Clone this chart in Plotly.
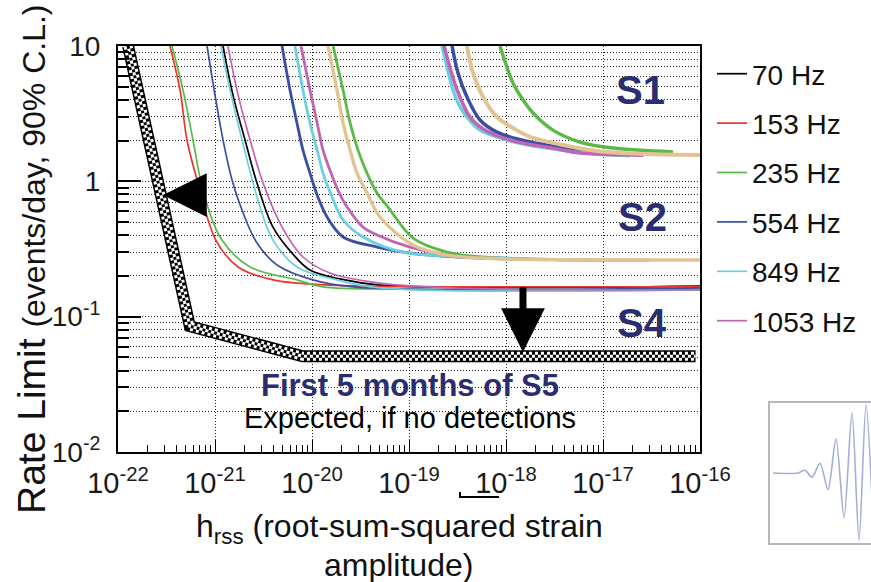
import plotly.graph_objects as go

# ---------------- data ----------------
# S4 upper limits (thin curves), strain h_rss vs rate limit (events/day)
s4_70_h = [1.21e-21, 1.53e-21, 2.04e-21, 2.71e-21, 3.96e-21, 6.22e-21, 9.53e-21, 1.94e-20, 5.02e-20, 1e-16]
s4_70_r = [10, 4.35, 2.02, 0.971, 0.459, 0.295, 0.221, 0.19, 0.171, 0.168]
s4_153_h = [3.43e-22, 4.36e-22, 5.14e-22, 6.68e-22, 1.02e-21, 1.73e-21, 3.96e-21, 1.53e-20, 2.65e-19, 1e-16]
s4_153_r = [10, 4.73, 2.02, 0.971, 0.368, 0.233, 0.187, 0.171, 0.166, 0.166]
s4_235_h = [3.60e-22, 4.68e-22, 5.93e-22, 7.52e-22, 1.18e-21, 2.30e-21, 7.0e-21, 1.30e-20, 8.07e-20, 1e-16]
s4_235_r = [10, 4.73, 2.02, 0.862, 0.368, 0.233, 0.187, 0.166, 0.160, 0.160]
s4_554_h = [8.28e-22, 1.02e-21, 1.21e-21, 1.50e-21, 1.95e-21, 2.71e-21, 4.36e-21, 1.02e-20, 2.65e-20, 1e-16]
s4_554_r = [10, 3.99, 2.02, 1.02, 0.583, 0.350, 0.241, 0.187, 0.166, 0.163]
s4_849_h = [1.15e-21, 1.43e-21, 1.90e-21, 2.91e-21, 3.96e-21, 7.0e-21, 1.81e-20, 5.02e-20, 1e-16]
s4_849_r = [10, 4.73, 2.02, 0.646, 0.368, 0.233, 0.187, 0.163, 0.158]
s4_1053_h = [1.36e-21, 1.73e-21, 2.30e-21, 3.13e-21, 4.91e-21, 8.07e-21, 1.53e-20, 5.02e-20, 2.65e-19, 1e-16]
s4_1053_r = [10, 4.35, 2.02, 0.971, 0.459, 0.276, 0.210, 0.177, 0.163, 0.158]

# S2 upper limits
s2_554_h = [4.91e-21, 5.93e-21, 7.0e-21, 8.07e-21, 9.53e-21, 1.15e-20, 1.43e-20, 2.09e-20, 4.68e-20, 1.02e-19, 5.40e-19, 9.3e-18, 3e-17]
s2_554_r = [10, 4.73, 2.70, 1.70, 1.15, 0.766, 0.545, 0.388, 0.327, 0.295, 0.271, 0.262, 0.262]
s2_849_h = [6.68e-21, 8.07e-21, 9.53e-21, 1.13e-20, 1.30e-20, 1.61e-20, 2.09e-20, 3.36e-20, 8.67e-20, 5.40e-19, 9.3e-18, 3e-17]
s2_849_r = [10, 4.73, 2.70, 1.70, 1.15, 0.766, 0.518, 0.388, 0.300, 0.276, 0.262, 0.262]
s2_1053_h = [7.70e-21, 9.53e-21, 1.13e-20, 1.30e-20, 1.53e-20, 1.85e-20, 2.30e-20, 3.36e-20, 4.68e-20, 1.02e-19, 2.65e-19, 1.39e-18, 8.3e-18]
s2_1053_r = [10, 4.73, 2.70, 1.70, 1.21, 0.862, 0.646, 0.459, 0.401, 0.327, 0.285, 0.267, 0.261]
s2_235_h = [1.65e-20, 2.09e-20, 2.47e-20, 2.98e-20, 3.69e-20, 4.68e-20, 6.08e-20, 1.10e-19, 2.47e-19, 5.40e-19, 2.24e-18]
s2_235_r = [10, 4.73, 2.70, 1.70, 1.15, 0.82, 0.646, 0.381, 0.300, 0.276, 0.264]
s2_tan_h = [1.46e-20, 1.81e-20, 2.09e-20, 2.47e-20, 2.91e-20, 3.69e-20, 5.02e-20, 1.10e-19, 2.47e-19, 5.40e-19, 1e-16]
s2_tan_r = [10, 4.73, 2.70, 1.70, 1.15, 0.82, 0.545, 0.338, 0.285, 0.271, 0.262]

# S1 upper limits
s1_554_h = [2.78e-19, 3.20e-19, 3.96e-19, 5.40e-19, 8.07e-19, 1.77e-18, 5.80e-18, 1.0e-17]
s1_554_r = [10, 6.32, 4.20, 2.84, 2.31, 1.95, 1.70, 1.62]
s1_849_h = [2.19e-19, 2.47e-19, 2.84e-19, 3.36e-19, 3.96e-19, 5.40e-19, 1.02e-18, 2.65e-18, 8.67e-18, 1.9e-17]
s1_849_r = [10, 7.0, 4.73, 3.54, 2.99, 2.39, 2.02, 1.76, 1.59, 1.55]
s1_1053_h = [2.30e-19, 3.13e-19, 4.26e-19, 5.80e-19, 1.18e-18, 3.05e-18, 5.80e-18, 2.04e-17, 2.6e-17]
s1_1053_r = [10, 4.73, 2.99, 2.44, 1.99, 1.76, 1.62, 1.565, 1.56]
s1_235_h = [8.67e-19, 1.02e-18, 1.18e-18, 1.50e-18, 1.90e-18, 3.05e-18, 5.80e-18, 1.27e-17, 5.27e-17]
s1_235_r = [10, 7.0, 5.33, 3.99, 3.20, 2.39, 1.95, 1.76, 1.65]
s1_tan_h = [3.96e-19, 4.57e-19, 5.80e-19, 8.07e-19, 1.18e-18, 1.77e-18, 3.87e-18, 8.67e-18, 2.84e-17, 1e-16]
s1_tan_r = [10, 6.32, 4.20, 2.99, 2.48, 2.13, 1.855, 1.675, 1.59, 1.565]

# expected S5 sensitivity (first 5 months)
s5_h = [1.27e-22, 5.5e-22, 8.0e-21, 9.0e-17]
s5_r = [10, 0.085, 0.051, 0.051]

# sine-Gaussian waveform sketch for the inset
wave_t = [3, 28, 35, 42, 50, 58, 66, 74, 82, 89, 96, 103]
wave_v = [0, 0, 0.04, -0.06, 0.14, -0.24, 0.49, -0.64, 0.86, -0.96, 0.97, -0.67]

legend_names = ["70 Hz", "153 Hz", "235 Hz", "554 Hz", "849 Hz", "1053 Hz"]
x_tick_vals = [1e-22, 1e-21, 1e-20, 1e-19, 1e-18, 1e-17, 1e-16]
x_tick_text = ["10<sup>-22</sup>", "10<sup>-21</sup>", "10<sup>-20</sup>", "10<sup>-19</sup>",
               "10<sup>-18</sup>", "10<sup>-17</sup>", "10<sup>-16</sup>"]
y_tick_vals = [0.01, 0.1, 1, 10]
y_tick_text = ["10<sup>-2</sup>", "10<sup>-1</sup>", "1", "10"]

# ---------------- styling ----------------
FONT = "Liberation Sans, Arial, Helvetica, sans-serif"
NAVY = "#2a2d70"
COL = {
    "70 Hz": "#000000",
    "153 Hz": "#e8372c",
    "235 Hz": "#5ab947",
    "554 Hz": "#3a4fa3",
    "849 Hz": "#6ccfdf",
    "1053 Hz": "#c064b4",
    "tan": "#e2c494",
}

W, H = 871, 582
ML, MT = 118, 46


def px(x):
    return (x - ML) / (W - ML)


def py(y):
    return (H - y) / (H - MT)


fig = go.Figure()

# S1 and S2 curves (thicker, not in legend)
for hs, rs, c, w in [
    (s2_554_h, s2_554_r, COL["554 Hz"], 2.8),
    (s2_849_h, s2_849_r, COL["849 Hz"], 2.8),
    (s2_1053_h, s2_1053_r, COL["1053 Hz"], 2.8),
    (s2_235_h, s2_235_r, COL["235 Hz"], 2.8),
    (s2_tan_h, s2_tan_r, COL["tan"], 3.4),
    (s1_554_h, s1_554_r, COL["554 Hz"], 3.5),
    (s1_849_h, s1_849_r, COL["849 Hz"], 3.5),
    (s1_1053_h, s1_1053_r, COL["1053 Hz"], 3.5),
    (s1_235_h, s1_235_r, COL["235 Hz"], 3.5),
    (s1_tan_h, s1_tan_r, COL["tan"], 4.0),
]:
    fig.add_trace(go.Scatter(x=hs, y=rs, mode="lines", showlegend=False,
                             line=dict(color=c, width=w, shape="spline", smoothing=1.0),
                             hoverinfo="skip"))

# expected S5 curve: black band with a checkered white pattern
# (outer rows white on even cells, middle row white on odd cells)
for c, w, d in [("black", 12, "solid"),
                ("white", 9, "3px,3px"),
                ("black", 3, "3px,3px"),
                ("white", 3, "0px,3px,3px,0px")]:
    fig.add_trace(go.Scatter(x=s5_h, y=s5_r, mode="lines", showlegend=False,
                             line=dict(color=c, width=w, dash=d), hoverinfo="skip"))

# S4 curves (thin, in legend)
s4 = [(s4_70_h, s4_70_r), (s4_153_h, s4_153_r), (s4_235_h, s4_235_r),
      (s4_554_h, s4_554_r), (s4_849_h, s4_849_r), (s4_1053_h, s4_1053_r)]
for name, (hs, rs) in zip(legend_names, s4):
    fig.add_trace(go.Scatter(x=hs, y=rs, mode="lines", name=name, legendgroup=name,
                             line=dict(color=COL[name], width=1.7, shape="spline", smoothing=1.0)))

# inset waveform
fig.add_trace(go.Scatter(x=wave_t, y=wave_v, mode="lines", xaxis="x2", yaxis="y2",
                         showlegend=False, hoverinfo="skip",
                         line=dict(color="#a7aed6", width=1.6, shape="spline", smoothing=0.8)))

minor_x = [m * 10.0 ** e for e in range(-22, -16) for m in range(2, 10)]
minor_y = [m * 10.0 ** e for e in range(-2, 1) for m in range(2, 10)]

grid = dict(gridcolor="#222222", gridwidth=1, griddash="1px,2px")

fig.update_layout(
    width=W, height=H,
    margin=dict(l=ML, r=0, t=MT, b=0, autoexpand=False),
    paper_bgcolor="white", plot_bgcolor="white",
    font=dict(family=FONT, color="#111111"),
    xaxis=dict(
        type="log", domain=[0, px(700)], range=[-22, -16], anchor="y", automargin=False,
        tickmode="array", tickvals=x_tick_vals, ticktext=x_tick_text,
        tickfont=dict(size=29, family=FONT, color="#1a1a1a"),
        ticks="inside", ticklen=12, tickwidth=1.2, tickcolor="black",
        showline=True, linecolor="black", linewidth=2, mirror=True,
        showgrid=True, **grid, zeroline=False, ticklabelstandoff=4,
        minor=dict(tickvals=minor_x, ticks="inside", ticklen=7, tickwidth=1.2,
                   tickcolor="black", showgrid=False),
    ),
    yaxis=dict(
        type="log", domain=[py(452), 1], range=[-2, 1], anchor="x", automargin=False,
        tickmode="array", tickvals=y_tick_vals, ticktext=y_tick_text,
        tickfont=dict(size=28, family=FONT, color="#1a1a1a"),
        ticks="inside", ticklen=23, tickwidth=1.5, tickcolor="black",
        showline=True, linecolor="black", linewidth=2, mirror=True,
        showgrid=True, **grid, zeroline=False, ticklabelstandoff=10,
        minor=dict(tickvals=minor_y, ticks="inside", ticklen=11, tickwidth=1.5,
                   tickcolor="black", showgrid=True, **grid),
    ),
    xaxis2=dict(domain=[px(770), 1], range=[0, 101], anchor="y2", automargin=False,
                showline=True, mirror=True, linecolor="#b8b8b8", linewidth=2,
                showgrid=False, zeroline=False, showticklabels=False, ticks=""),
    yaxis2=dict(domain=[py(543), py(403)], range=[-1, 1], anchor="x2", automargin=False,
                showline=True, mirror=True, linecolor="#b8b8b8", linewidth=2,
                showgrid=False, zeroline=False, showticklabels=False, ticks=""),
    legend=dict(x=px(712), y=py(49), xanchor="left", yanchor="top",
                bgcolor="rgba(0,0,0,0)", borderwidth=0,
                font=dict(size=28, family=FONT, color="#111111"),
                tracegroupgap=10, itemwidth=30),
    showlegend=True,
)

ann = []
# axis titles
ann.append(dict(xref="paper", yref="paper", x=px(31), y=py(259), xanchor="center", yanchor="middle",
                textangle=-90, showarrow=False,
                text="Rate Limit <span style='font-size:32px'>(events/day, 90% C.L.)</span>",
                font=dict(size=39, family=FONT, color="#111111")))
ann.append(dict(xref="paper", yref="paper", x=px(399), y=py(528), xanchor="center", yanchor="middle",
                showarrow=False, text="h<sub>rss</sub> (root-sum-squared strain",
                font=dict(size=32, family=FONT, color="#111111")))
ann.append(dict(xref="paper", yref="paper", x=px(398), y=py(565), xanchor="center", yanchor="middle",
                showarrow=False, text="amplitude)",
                font=dict(size=32, family=FONT, color="#111111")))
# run labels
for label, cx, cy in [("S1", 640, 90), ("S2", 642, 217), ("S4", 642, 323)]:
    ann.append(dict(xref="paper", yref="paper", x=px(cx), y=py(cy), xanchor="center", yanchor="middle",
                    showarrow=False, text="<b>%s</b>" % label,
                    font=dict(size=40, family=FONT, color=NAVY)))
ann.append(dict(xref="paper", yref="paper", x=px(410), y=py(386), xanchor="center", yanchor="middle",
                showarrow=False, text="<b>First 5 months of S5</b>",
                font=dict(size=31, family=FONT, color=NAVY)))
ann.append(dict(xref="paper", yref="paper", x=px(410), y=py(418), xanchor="center", yanchor="middle",
                showarrow=False, text="Expected, if no detections",
                font=dict(size=29, family=FONT, color="black")))
# arrows
ann.append(dict(xref="x", yref="y", x=-21.536, y=-0.101, ax=42, ay=0, text="",
                showarrow=True, arrowhead=2, arrowsize=1.25, arrowwidth=7, arrowcolor="black"))
ann.append(dict(xref="x", yref="y", x=-17.825, y=-1.262, ax=0, ay=-66, text="",
                showarrow=True, arrowhead=2, arrowsize=1.25, arrowwidth=7, arrowcolor="black"))
fig.update_layout(annotations=ann)

# small bracket mark beneath the 10^-18 label
fig.add_shape(type="path", xref="paper", yref="paper",
              path="M %f,%f L %f,%f L %f,%f" % (px(460), py(492), px(460), py(497), px(499), py(497)),
              line=dict(color="black", width=2))

fig.write_html("out.html")
